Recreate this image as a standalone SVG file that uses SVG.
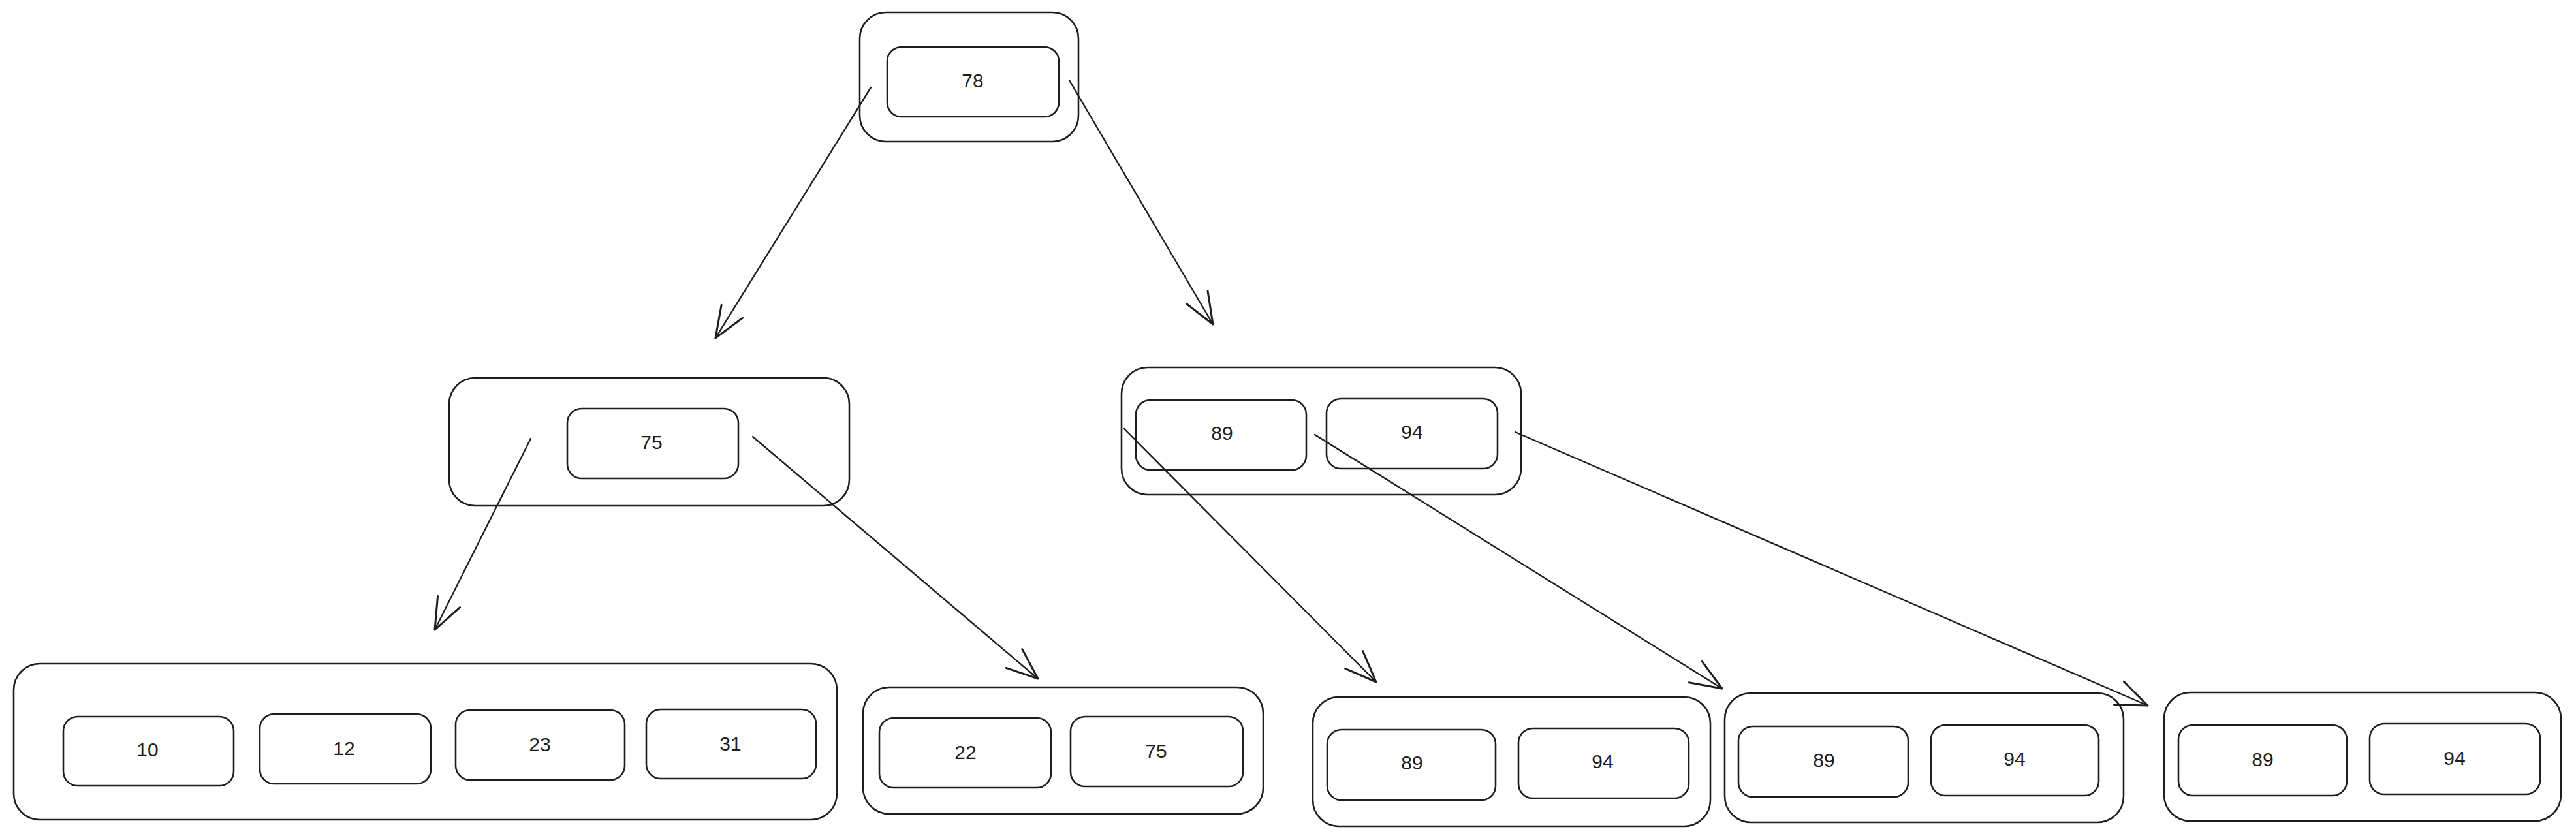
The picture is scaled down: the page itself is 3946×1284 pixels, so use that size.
<svg xmlns="http://www.w3.org/2000/svg" width="3946" height="1284" viewBox="0 0 3946 1284">
<style>
.o{fill:none;stroke:#1e1e1e;stroke-width:2.6;stroke-linejoin:round}
.i{fill:none;stroke:#1e1e1e;stroke-width:2.6;stroke-linejoin:round}
.t{font-family:"Liberation Sans","DejaVu Sans",sans-serif;font-size:30px;fill:#1e1e1e;text-anchor:middle;dominant-baseline:central}
.c{fill:none;stroke:#1e1e1e;stroke-width:2.4;stroke-linecap:round}
</style>
<defs>
<marker id="ah" markerUnits="userSpaceOnUse" markerWidth="70" markerHeight="70" refX="60" refY="35" orient="auto" viewBox="0 0 70 70">
<path d="M12,16 L60,35 L12,54" fill="none" stroke="#1e1e1e" stroke-width="3" stroke-linecap="round" stroke-linejoin="round"/>
</marker>
</defs>
<rect width="3946" height="1284" fill="#ffffff"/>
<g id="connectors">
<path class="c" d="M1334,134 L1096,518" marker-end="url(#ah)"/>
<path class="c" d="M1638,123 L1858,497" marker-end="url(#ah)"/>
<path class="c" d="M813,672 L666,965" marker-end="url(#ah)"/>
<path class="c" d="M1153,669 L1590,1040" marker-end="url(#ah)"/>
<path class="c" d="M1722,657 L2108,1045" marker-end="url(#ah)"/>
<path class="c" d="M2014,666 L2638,1055" marker-end="url(#ah)"/>
<path class="c" d="M2321,662 L3290,1081" marker-end="url(#ah)"/>
</g>
<g id="root">
<rect class="o" x="1317" y="19" width="335" height="198" rx="40"/>
<g id="root-78"><rect class="i" x="1359" y="72" width="263" height="107" rx="22"/><text class="t" x="1490" y="123">78</text></g>
</g>
<g id="node-75">
<rect class="o" x="688" y="579" width="613" height="196" rx="40"/>
<g id="node-75-75"><rect class="i" x="869" y="626" width="262" height="107" rx="22"/><text class="t" x="998" y="677">75</text></g>
</g>
<g id="node-89-94">
<rect class="o" x="1718" y="563" width="612" height="195" rx="40"/>
<g id="node-89-94-89"><rect class="i" x="1740" y="613" width="261" height="107" rx="22"/><text class="t" x="1872" y="663">89</text></g>
<g id="node-89-94-94"><rect class="i" x="2032" y="611" width="262" height="107" rx="22"/><text class="t" x="2163" y="661">94</text></g>
</g>
<g id="leaf-1">
<rect class="o" x="21" y="1017" width="1261" height="239" rx="40"/>
<g id="leaf-1-10"><rect class="i" x="97" y="1098" width="261" height="106" rx="22"/><text class="t" x="226" y="1148">10</text></g>
<g id="leaf-1-12"><rect class="i" x="398" y="1094" width="262" height="107" rx="22"/><text class="t" x="527" y="1146">12</text></g>
<g id="leaf-1-23"><rect class="i" x="698" y="1088" width="259" height="107" rx="22"/><text class="t" x="827" y="1140">23</text></g>
<g id="leaf-1-31"><rect class="i" x="990" y="1087" width="260" height="106" rx="22"/><text class="t" x="1119" y="1139">31</text></g>
</g>
<g id="leaf-2">
<rect class="o" x="1322" y="1053" width="613" height="194" rx="40"/>
<g id="leaf-2-22"><rect class="i" x="1347" y="1100" width="263" height="107" rx="22"/><text class="t" x="1479" y="1152">22</text></g>
<g id="leaf-2-75"><rect class="i" x="1640" y="1098" width="264" height="107" rx="22"/><text class="t" x="1771" y="1150">75</text></g>
</g>
<g id="leaf-3">
<rect class="o" x="2011" y="1068" width="609" height="198" rx="40"/>
<g id="leaf-3-89"><rect class="i" x="2033" y="1118" width="258" height="108" rx="22"/><text class="t" x="2163" y="1168">89</text></g>
<g id="leaf-3-94"><rect class="i" x="2326" y="1116" width="261" height="107" rx="22"/><text class="t" x="2455" y="1166">94</text></g>
</g>
<g id="leaf-4">
<rect class="o" x="2642" y="1062" width="611" height="198" rx="40"/>
<g id="leaf-4-89"><rect class="i" x="2663" y="1113" width="260" height="108" rx="22"/><text class="t" x="2794" y="1164">89</text></g>
<g id="leaf-4-94"><rect class="i" x="2958" y="1111" width="257" height="108" rx="22"/><text class="t" x="3086" y="1162">94</text></g>
</g>
<g id="leaf-5">
<rect class="o" x="3315" y="1061" width="608" height="197" rx="40"/>
<g id="leaf-5-89"><rect class="i" x="3337" y="1111" width="258" height="108" rx="22"/><text class="t" x="3466" y="1163">89</text></g>
<g id="leaf-5-94"><rect class="i" x="3630" y="1109" width="261" height="108" rx="22"/><text class="t" x="3760" y="1161">94</text></g>
</g>
</svg>
